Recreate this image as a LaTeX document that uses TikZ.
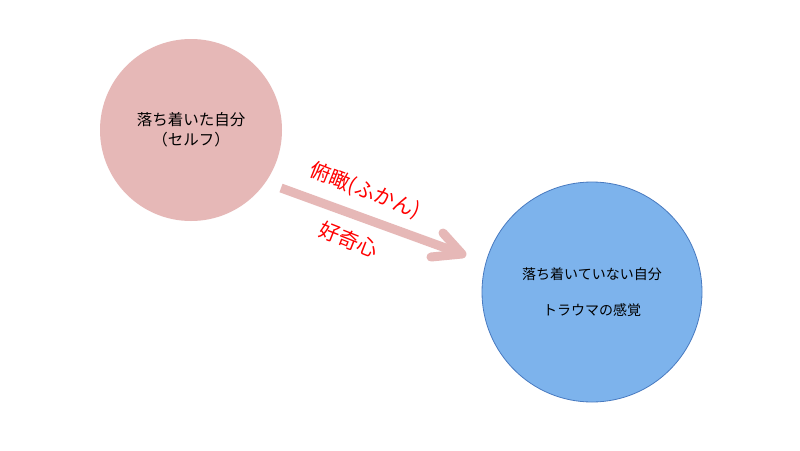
\documentclass[tikz,border=0pt]{standalone}
\usepackage{fontspec}
\setmainfont{Noto Sans CJK JP}
\definecolor{pinkc}{RGB}{230,184,183}
\definecolor{bluec}{RGB}{125,179,236}
\definecolor{blueb}{RGB}{72,122,192}
\definecolor{redt}{RGB}{255,0,0}
\tikzset{
  arrowline/.style={draw=pinkc, line width=9pt},
  redlabel/.style={text=redt, rotate=-21.5, inner sep=0pt, font=\fontsize{20.5}{24}\selectfont},
}
\begin{document}
\begin{tikzpicture}[x=1pt,y=-1pt]
\useasboundingbox (0,0) rectangle (800,450);
\fill[white] (0,0) rectangle (800,450);
\node[circle, fill=pinkc, minimum size=182pt, inner sep=0pt, align=center,
      font=\fontsize{15.5}{20}\selectfont] (self) at (191,130) {落ち着いた自分\\（セルフ）};
\node[circle, fill=bluec, draw=blueb, line width=0.8pt, minimum size=220pt, inner sep=0pt, align=center,
      font=\fontsize{14}{20}\selectfont] (trauma) at (592,292) {落ち着いていない自分\\[16pt]トラウマの感覚};
\coordinate (as) at (281,188);
\coordinate (at) at (462,254);
\coordinate (a1) at (443,233);
\coordinate (a2) at (431,257);
\draw[arrowline] (as) -- (at);
\draw[arrowline, line cap=round, line join=round] (a1) -- (at) -- (a2);
\node[redlabel] (l1) at (365,191) {俯瞰(ふかん)};
\node[redlabel] (l2) at (349,240) {好奇心};
\end{tikzpicture}
\end{document}
